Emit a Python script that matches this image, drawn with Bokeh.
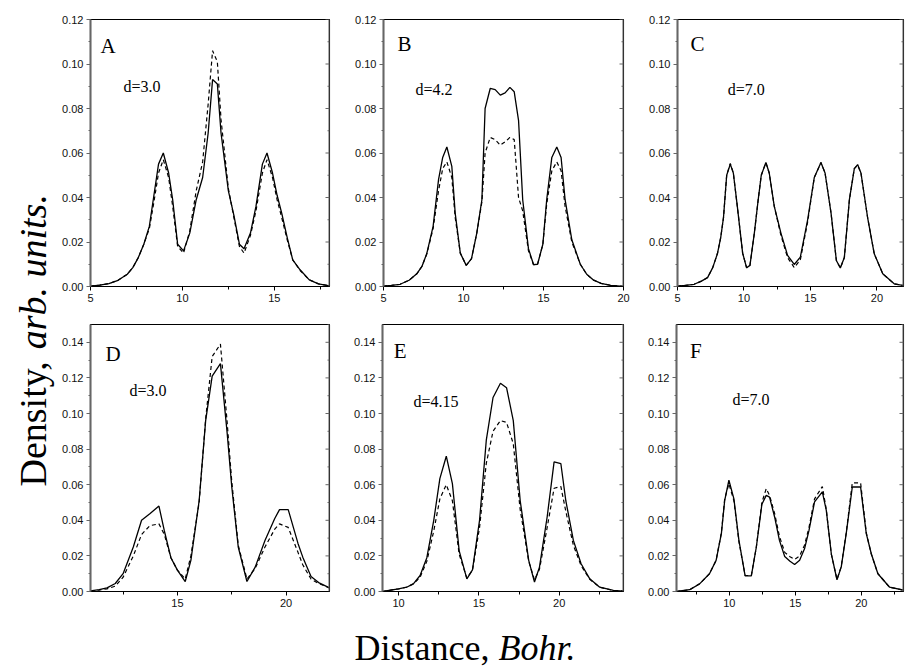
import math
from bokeh.plotting import figure
from bokeh.models import Range1d, LinearAxis, Label, FixedTicker, PrintfTickFormatter, Span
from bokeh.layouts import row, column
from bokeh.embed import file_html
from bokeh.resources import INLINE

# ---------------- data ----------------
A_x = [5.0, 5.5, 6.0, 6.5, 7.0, 7.3, 7.6, 7.9, 8.2, 8.45, 8.7, 8.96, 9.25, 9.47, 9.74, 10.06, 10.4, 10.75, 11.1, 11.4,
       11.64, 11.9, 12.1, 12.5, 12.8, 13.1, 13.35, 13.7, 14.0, 14.35, 14.6, 14.9, 15.15, 15.4, 15.7, 16.0, 16.4, 16.9, 17.4, 18.0]
A_solid = [0.0002, 0.0006, 0.0013, 0.0028, 0.0055, 0.0085, 0.013, 0.019, 0.027, 0.041, 0.055, 0.060, 0.051, 0.039, 0.019, 0.016,
           0.024, 0.039, 0.049, 0.069, 0.093, 0.091, 0.069, 0.043, 0.032, 0.019, 0.017, 0.024, 0.036, 0.055, 0.060, 0.051, 0.041,
           0.033, 0.022, 0.012, 0.0075, 0.003, 0.0012, 0.0003]
A_dashed = [0.0002, 0.0006, 0.0013, 0.0028, 0.0055, 0.0085, 0.013, 0.019, 0.026, 0.038, 0.051, 0.057, 0.049, 0.036, 0.018, 0.015,
            0.025, 0.043, 0.056, 0.082, 0.106, 0.101, 0.075, 0.044, 0.031, 0.018, 0.015, 0.023, 0.034, 0.051, 0.057, 0.049, 0.039,
            0.031, 0.021, 0.012, 0.0072, 0.003, 0.0012, 0.0003]

B_x = [5.0, 5.5, 6.04, 6.6, 7.08, 7.4, 7.7, 8.1, 8.44, 8.7, 8.96, 9.27, 9.48, 9.8, 10.17, 10.5, 10.83, 11.15, 11.35, 11.67,
       11.98, 12.3, 12.6, 12.9, 13.17, 13.44, 13.7, 14.06, 14.38, 14.63, 14.96, 15.2, 15.52, 15.83, 16.1, 16.35, 16.77, 17.3,
       17.7, 18.1, 18.6, 19.2, 20.0]
B_solid = [0.0002, 0.0005, 0.001, 0.0028, 0.0057, 0.009, 0.0147, 0.027, 0.048, 0.058, 0.0627, 0.054, 0.033, 0.015, 0.0095,
           0.0125, 0.024, 0.039, 0.080, 0.089, 0.0885, 0.086, 0.087, 0.0895, 0.0875, 0.0747, 0.039, 0.017, 0.0098, 0.010, 0.019,
           0.039, 0.058, 0.0627, 0.058, 0.039, 0.021, 0.010, 0.0055, 0.003, 0.0014, 0.0005, 0.0001]
B_dashed = [0.0002, 0.0005, 0.001, 0.0028, 0.0057, 0.009, 0.0145, 0.026, 0.043, 0.053, 0.056, 0.049, 0.031, 0.015, 0.0095,
            0.0125, 0.024, 0.038, 0.060, 0.067, 0.066, 0.0635, 0.065, 0.067, 0.066, 0.040, 0.034, 0.016, 0.0098, 0.010, 0.019,
            0.037, 0.052, 0.056, 0.052, 0.036, 0.020, 0.010, 0.0055, 0.003, 0.0014, 0.0005, 0.0001]

C_x = [5.0, 5.6, 6.25, 6.8, 7.26, 7.65, 8.0, 8.25, 8.46, 8.7, 8.97, 9.2, 9.5, 9.9, 10.2, 10.45, 10.78, 11.05, 11.3, 11.65,
       11.9, 12.28, 12.78, 13.28, 13.78, 14.24, 14.79, 15.29, 15.79, 16.1, 16.55, 16.95, 17.25, 17.55, 17.93, 18.3, 18.55,
       18.8, 19.3, 19.8, 20.44, 21.3, 22.2]
C_solid = [0.0002, 0.0005, 0.001, 0.0024, 0.004, 0.0085, 0.0147, 0.022, 0.031, 0.050, 0.055, 0.051, 0.036, 0.015, 0.0084,
           0.0095, 0.024, 0.038, 0.050, 0.0557, 0.051, 0.036, 0.024, 0.014, 0.0099, 0.0132, 0.030, 0.049, 0.0557, 0.051, 0.033,
           0.0117, 0.0083, 0.013, 0.039, 0.053, 0.0548, 0.051, 0.031, 0.0147, 0.0057, 0.0012, 0.0002]
C_dashed = [0.0002, 0.0005, 0.001, 0.0024, 0.004, 0.0085, 0.0147, 0.022, 0.031, 0.050, 0.0553, 0.051, 0.036, 0.015, 0.0084,
            0.0095, 0.024, 0.038, 0.050, 0.0557, 0.051, 0.036, 0.023, 0.013, 0.0085, 0.012, 0.029, 0.049, 0.0557, 0.051, 0.033,
            0.0117, 0.0083, 0.013, 0.039, 0.053, 0.0545, 0.051, 0.031, 0.0147, 0.0057, 0.0012, 0.0002]

D_x = [11.0, 11.4, 11.76, 12.14, 12.5, 12.97, 13.35, 13.73, 14.15, 14.4, 14.7, 15.0, 15.36, 15.62, 16.0, 16.3, 16.6, 16.98,
       17.29, 17.5, 17.8, 18.2, 18.58, 19.03, 19.48, 19.7, 20.1, 20.55, 20.77, 21.15, 21.5, 22.0]
D_solid = [0.0003, 0.001, 0.002, 0.0045, 0.010, 0.025, 0.040, 0.0437, 0.048, 0.034, 0.019, 0.012, 0.0056, 0.0175, 0.051,
           0.096, 0.121, 0.128, 0.089, 0.059, 0.025, 0.0056, 0.0137, 0.0287, 0.041, 0.046, 0.046, 0.027, 0.0193, 0.0084,
           0.005, 0.002]
D_dashed = [0.0003, 0.0008, 0.0015, 0.003, 0.008, 0.020, 0.032, 0.037, 0.038, 0.032, 0.019, 0.012, 0.007, 0.020, 0.050,
            0.097, 0.132, 0.139, 0.095, 0.062, 0.026, 0.007, 0.013, 0.025, 0.035, 0.038, 0.036, 0.022, 0.015, 0.007,
            0.0045, 0.002]

E_x = [9.0, 10.0, 10.5, 10.92, 11.34, 11.76, 12.19, 12.57, 12.97, 13.35, 13.77, 14.25, 14.6, 15.04, 15.46, 15.88, 16.34,
       16.72, 17.14, 17.57, 18.1, 18.46, 18.77, 19.25, 19.68, 20.1, 20.41, 20.88, 21.36, 21.9, 22.52, 23.37, 24.0]
E_solid = [0.0, 0.0015, 0.0024, 0.0043, 0.009, 0.019, 0.040, 0.0634, 0.076, 0.0606, 0.023, 0.0071, 0.0122, 0.040, 0.085,
           0.109, 0.117, 0.1145, 0.096, 0.051, 0.0175, 0.0053, 0.0137, 0.042, 0.0728, 0.0719, 0.051, 0.0287, 0.0156, 0.0071,
           0.0024, 0.0006, 0.0002]
E_dashed = [0.0, 0.0015, 0.0024, 0.0043, 0.008, 0.017, 0.034, 0.052, 0.060, 0.051, 0.021, 0.0075, 0.012, 0.036, 0.072,
            0.090, 0.096, 0.095, 0.083, 0.046, 0.017, 0.0065, 0.0125, 0.036, 0.058, 0.059, 0.045, 0.026, 0.0145, 0.0068,
            0.0024, 0.0006, 0.0002]

F_x = [6.0, 7.0, 7.75, 8.5, 9.0, 9.4, 9.65, 9.97, 10.35, 10.73, 11.2, 11.67, 12.05, 12.47, 12.8, 13.05, 13.43, 13.8, 14.2,
       14.6, 14.95, 15.33, 15.7, 16.04, 16.46, 17.05, 17.35, 17.73, 18.16, 18.48, 18.86, 19.32, 19.95, 20.38, 20.76, 21.26,
       22.15, 23.3]
F_solid = [0.0, 0.001, 0.0043, 0.010, 0.0175, 0.0325, 0.051, 0.0625, 0.052, 0.0287, 0.0088, 0.0088, 0.025, 0.049, 0.054,
           0.053, 0.042, 0.0287, 0.0197, 0.017, 0.0152, 0.0175, 0.024, 0.0343, 0.0503, 0.056, 0.0456, 0.0212, 0.0066, 0.0137,
           0.0325, 0.0587, 0.0587, 0.0325, 0.0212, 0.010, 0.0024, 0.0006]
F_dashed = [0.0, 0.001, 0.0043, 0.010, 0.0175, 0.033, 0.052, 0.0605, 0.051, 0.028, 0.009, 0.009, 0.025, 0.050, 0.0578,
            0.054, 0.044, 0.031, 0.022, 0.0195, 0.018, 0.020, 0.026, 0.036, 0.052, 0.059, 0.046, 0.021, 0.0068, 0.014,
            0.033, 0.061, 0.061, 0.033, 0.021, 0.010, 0.0024, 0.0006]

panel_letters = ["A", "B", "C", "D", "E", "F"]
panel_d_texts = ["d=3.0", "d=4.2", "d=7.0", "d=3.0", "d=4.15", "d=7.0"]
x_major_ticks = [5, 10, 15, 20]
y_ticks_top = [0.00, 0.02, 0.04, 0.06, 0.08, 0.10, 0.12]
y_ticks_bottom = [0.00, 0.02, 0.04, 0.06, 0.08, 0.10, 0.12, 0.14]
y_title_plain = "Density, "
y_title_italic = "arb. units."
x_title_plain = "Distance, "
x_title_italic = "Bohr."

SERIF = "Liberation Serif"
SANS = "Liberation Sans"
AXIS_GRAY = "#666666"
BASE_SHIFT = 0.33   # em: Bokeh places "alphabetic" labels a bit low; compensate


def panel(xs, ys_s, ys_d, xr, yr, yt, letter, dtext, lpos, dpos, left, fw, right, top, fh, bottom):
    p = figure(width=left + fw + right, height=top + fh + bottom,
               x_range=Range1d(*xr), y_range=Range1d(*yr),
               output_backend="svg", toolbar_location=None,
               x_axis_type=None, y_axis_type=None,
               min_border_left=left, min_border_right=right,
               min_border_top=top, min_border_bottom=bottom,
               outline_line_color="black", outline_line_width=1.1,
               background_fill_color="white", border_fill_color="white")
    p.grid.visible = False
    xminor = [t + 2.5 for t in [0] + x_major_ticks]
    xt = FixedTicker(ticks=x_major_ticks, minor_ticks=xminor)
    ystep = yt[1] - yt[0]
    ymin = [v + ystep / 2 for v in yt]
    ytk = FixedTicker(ticks=yt, minor_ticks=ymin)

    bx = LinearAxis(ticker=xt, axis_line_color="black", axis_line_width=1.2,
                    major_tick_out=4, major_tick_in=0, minor_tick_out=3, minor_tick_in=0,
                    major_tick_line_color="black", minor_tick_line_color="black",
                    major_label_standoff=3, major_label_text_font=SANS,
                    major_label_text_font_size="11px", major_label_text_color="#111111")
    ly = LinearAxis(ticker=ytk, formatter=PrintfTickFormatter(format="%.2f"),
                    axis_line_color=AXIS_GRAY, axis_line_width=2,
                    major_tick_out=4, major_tick_in=0, minor_tick_out=2, minor_tick_in=0,
                    major_tick_line_color=AXIS_GRAY, minor_tick_line_color=AXIS_GRAY,
                    major_label_standoff=3, major_label_text_font=SANS,
                    major_label_text_font_size="11px", major_label_text_color="#111111")
    p.add_layout(bx, "below")
    p.add_layout(ly, "left")

    # right frame edge: grey line with inward ticks (mirrors the left axis)
    p.add_layout(Span(location=xr[1], dimension="height", line_color=AXIS_GRAY, line_width=2))
    ppu = fw / (xr[1] - xr[0])
    p.segment(x0=[xr[1]] * len(yt), y0=yt, x1=[xr[1] - 4 / ppu] * len(yt), y1=yt,
              line_color=AXIS_GRAY, line_width=1)
    p.segment(x0=[xr[1]] * len(ymin), y0=ymin, x1=[xr[1] - 2 / ppu] * len(ymin), y1=ymin,
              line_color=AXIS_GRAY, line_width=1)

    p.line(xs, ys_d, line_color="black", line_width=1.2, line_dash="4 3")
    p.line(xs, ys_s, line_color="black", line_width=1.3)

    ypp = (yr[1] - yr[0]) / fh

    def at(fx, fy, size):
        return (xr[0] + fx * (xr[1] - xr[0]),
                yr[1] - fy * (yr[1] - yr[0]) + BASE_SHIFT * size * ypp)

    lx, lyv = at(lpos[0], lpos[1], 21)
    p.add_layout(Label(x=lx, y=lyv, text=letter, text_font=SERIF, text_font_size="21px",
                       text_color="black", text_align="left", text_baseline="alphabetic"))
    dx, dyv = at(dpos[0], dpos[1], 16)
    p.add_layout(Label(x=dx, y=dyv, text=dtext, text_font=SERIF, text_font_size="16px",
                       text_color="black", text_align="left", text_baseline="alphabetic"))
    return p


pA = panel(A_x, A_solid, A_dashed, (5, 18), (0, 0.12), y_ticks_top, panel_letters[0], panel_d_texts[0],
           (0.042, 0.124), (0.138, 0.272), 34, 239, 10, 19, 267, 28)
pB = panel(B_x, B_solid, B_dashed, (5, 20), (0, 0.12), y_ticks_top, panel_letters[1], panel_d_texts[1],
           (0.058, 0.117), (0.133, 0.281), 44, 240, 10, 19, 267, 28)
pC = panel(C_x, C_solid, C_dashed, (5, 22.0), (0, 0.12), y_ticks_top, panel_letters[2], panel_d_texts[2],
           (0.057, 0.117), (0.222, 0.282), 44, 226, 2, 19, 267, 28)
pD = panel(D_x, D_solid, D_dashed, (11, 22), (0, 0.15), y_ticks_bottom, panel_letters[3], panel_d_texts[3],
           (0.063, 0.135), (0.163, 0.268), 34, 239, 10, 10, 267, 22)
pE = panel(E_x, E_solid, E_dashed, (9, 24), (0, 0.15), y_ticks_bottom, panel_letters[4], panel_d_texts[4],
           (0.047, 0.1265), (0.129, 0.307), 43, 241, 10, 10, 267, 22)
pF = panel(F_x, F_solid, F_dashed, (6, 23.2), (0, 0.15), y_ticks_bottom, panel_letters[5], panel_d_texts[5],
           (0.06, 0.126), (0.247, 0.300), 43, 227, 2, 10, 267, 22)

# y-axis title (two parts: plain + italic), rotated to read bottom-to-top
YF_W, YF_H = 56, 613
yfig = figure(width=YF_W, height=YF_H, x_range=Range1d(0, YF_W), y_range=Range1d(0, YF_H),
              output_backend="svg", toolbar_location=None, x_axis_type=None, y_axis_type=None,
              min_border=0, outline_line_color=None)
yfig.grid.visible = False
YT_SIZE = 38
y_start = 127
y_base = 45 - BASE_SHIFT * YT_SIZE
yfig.add_layout(Label(x=y_base, y=y_start, text=y_title_plain, angle=math.pi / 2, text_font=SERIF,
                      text_font_size=f"{YT_SIZE}px", text_align="left", text_baseline="alphabetic",
                      text_color="black"))
yfig.add_layout(Label(x=y_base, y=y_start + 3.611 * YT_SIZE, text=y_title_italic, angle=math.pi / 2,
                      text_font=SERIF, text_font_style="italic", text_font_size=f"{YT_SIZE}px",
                      text_align="left", text_baseline="alphabetic", text_color="black"))

# x-axis title
XF_W, XF_H = 905, 55
xfig = figure(width=XF_W, height=XF_H, x_range=Range1d(0, XF_W), y_range=Range1d(0, XF_H),
              output_backend="svg", toolbar_location=None, x_axis_type=None, y_axis_type=None,
              min_border=0, outline_line_color=None)
xfig.grid.visible = False
XT_SIZE = 36
x_start = 354
x_y = 9 + BASE_SHIFT * XT_SIZE   # baseline ~9px above the bottom edge, so the comma is not clipped
xfig.add_layout(Label(x=x_start, y=x_y, text=x_title_plain, text_font=SERIF,
                      text_font_size=f"{XT_SIZE}px", text_align="left", text_baseline="alphabetic",
                      text_color="black"))
xfig.add_layout(Label(x=x_start + 3.999 * XT_SIZE, y=x_y, text=x_title_italic,
                      text_font=SERIF, text_font_style="italic", text_font_size=f"{XT_SIZE}px",
                      text_align="left", text_baseline="alphabetic", text_color="black"))

grid = column(row(pA, pB, pC), row(pD, pE, pF))
layout = column(row(yfig, grid), xfig)

open("out.html", "w").write(file_html(layout, INLINE))
